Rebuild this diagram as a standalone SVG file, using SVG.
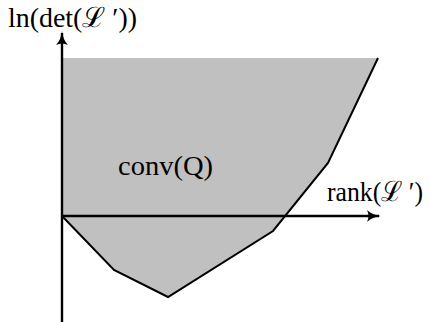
<svg xmlns="http://www.w3.org/2000/svg" width="430" height="322" viewBox="0 0 430 322">
<style>
.t{font-family:"Liberation Serif","DejaVu Serif",serif;font-size:28px;fill:#000}
.ax{stroke:#000;stroke-width:2.4;fill:none}
.edge{stroke:#000;stroke-width:2;fill:none;stroke-linejoin:miter}
</style>
<defs>
<marker id="arr" viewBox="0 0 14 12" refX="12" refY="6" markerWidth="14" markerHeight="12" markerUnits="userSpaceOnUse" orient="auto">
<path d="M0,0 Q5,5 14,6 Q5,7 0,12 Q3,6 0,0 Z" fill="#000"/>
</marker>
</defs>
<g id="region">
<polygon points="62,58 378,58 328,163 273,231 168,297 114,270 62,216" fill="#c0c0c0"/>
<polyline class="edge" points="378,58 328,163 273,231 168,297 114,270 62,216"/>
</g>
<g id="axes">
<line class="ax" x1="62" y1="322" x2="62" y2="33" marker-end="url(#arr)"/>
<line class="ax" x1="62" y1="216" x2="379" y2="216" marker-end="url(#arr)"/>
</g>
<g id="labels">
<text class="t" x="8" y="27" textLength="129" lengthAdjust="spacingAndGlyphs">ln(det(ℒ ′))</text>
<text class="t" x="118" y="175" textLength="95" lengthAdjust="spacingAndGlyphs">conv(Q)</text>
<text class="t" x="327" y="201" textLength="96" lengthAdjust="spacingAndGlyphs">rank(ℒ ′)</text>
</g>
</svg>
